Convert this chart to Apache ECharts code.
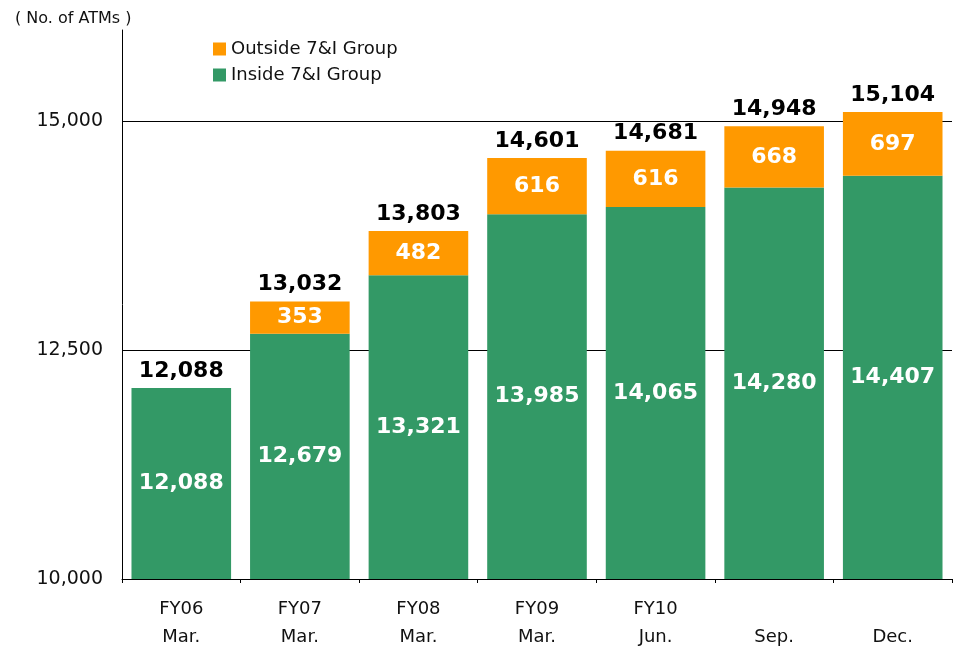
<!DOCTYPE html>
<html>
<head>
<meta charset="utf-8">
<script src="https://cdn.jsdelivr.net/npm/echarts@6/dist/echarts.min.js"></script>
<style>
html, body { margin: 0; padding: 0; background: #fff; }
#main { width: 955px; height: 649px; }
</style>
</head>
<body>
<div id="main"></div>
<script>
// 数据
var categories = ['FY06\nMar.', 'FY07\nMar.', 'FY08\nMar.', 'FY09\nMar.', 'FY10\nJun.', '\nSep.', '\nDec.']
var insideGroup = [12088, 12679, 13321, 13985, 14065, 14280, 14407]
var outsideGroup = ['-', 353, 482, 616, 616, 668, 697]
var yTicks = [10000, 12500, 15000]

var totals = insideGroup.map(function (v, i) {
    return v + (outsideGroup[i] === '-' ? 0 : outsideGroup[i])
})

function fmt (v) {
    return String(v).replace(/\B(?=(\d{3})+(?!\d))/g, ',')
}

var font = 'DejaVu Sans'
var myChart = echarts.init(document.getElementById('main'))
var option = {
    animation: false,
    textStyle: { fontFamily: font },
    title: {
        text: '( No. of ATMs )',
        left: 10,
        top: 6,
        textStyle: { fontSize: 16, fontWeight: 'normal', color: '#111', fontFamily: font }
    },
    legend: {
        orient: 'vertical',
        left: 208,
        top: 35,
        icon: 'rect',
        itemWidth: 13,
        itemHeight: 13,
        itemGap: 8,
        data: ['Outside 7&I Group', 'Inside 7&I Group'],
        textStyle: { fontSize: 18, color: '#111', fontFamily: font }
    },
    grid: {
        left: 122,
        right: 3,
        top: 30,
        bottom: 70,
        outerBoundsMode: 'none'
    },
    xAxis: {
        type: 'category',
        data: categories,
        axisLine: { lineStyle: { color: '#000', width: 1 } },
        axisTick: { show: true, length: 4, lineStyle: { color: '#000' } },
        axisLabel: {
            fontSize: 18,
            color: '#111',
            lineHeight: 28,
            margin: 16,
            fontFamily: font
        }
    },
    yAxis: {
        type: 'value',
        min: yTicks[0],
        max: 16000,
        interval: 2500,
        axisLine: { show: true, lineStyle: { color: '#000', width: 1 } },
        axisTick: { show: false },
        splitLine: { show: false },
        axisLabel: {
            fontSize: 19,
            color: '#111',
            margin: 19,
            fontFamily: font,
            formatter: function (v) {
                return yTicks.indexOf(v) >= 0 ? fmt(v) : ''
            }
        }
    },
    series: [{
        name: 'Inside 7&I Group',
        type: 'bar',
        stack: 'atm',
        z: 3,
        barCategoryGap: '16%',
        itemStyle: { color: '#339966' },
        label: {
            show: true,
            position: 'inside',
            color: '#fff',
            fontSize: 22,
            fontWeight: 'bold',
            fontFamily: font,
            formatter: function (p) { return fmt(p.value) }
        },
        markLine: {
            silent: true,
            z: 1,
            symbol: 'none',
            label: { show: false },
            lineStyle: { color: '#000', width: 1, type: 'solid' },
            data: yTicks.slice(1).map(function (v) { return { yAxis: v } })
        },
        data: insideGroup
    }, {
        name: 'Outside 7&I Group',
        type: 'bar',
        stack: 'atm',
        z: 3,
        barCategoryGap: '16%',
        itemStyle: { color: '#ff9900' },
        label: {
            show: true,
            position: 'inside',
            color: '#fff',
            fontSize: 22,
            fontWeight: 'bold',
            fontFamily: font,
            formatter: function (p) { return fmt(p.value) }
        },
        data: outsideGroup
    }, {
        name: 'Total',
        type: 'scatter',
        symbolSize: 0,
        z: 4,
        itemStyle: { opacity: 1 },
        label: {
            show: true,
            position: 'top',
            distance: 6,
            color: '#000',
            fontSize: 22,
            fontWeight: 'bold',
            fontFamily: font,
            formatter: function (p) { return fmt(p.value) }
        },
        data: totals
    }]
}
myChart.setOption(option)
</script>
</body>
</html>
